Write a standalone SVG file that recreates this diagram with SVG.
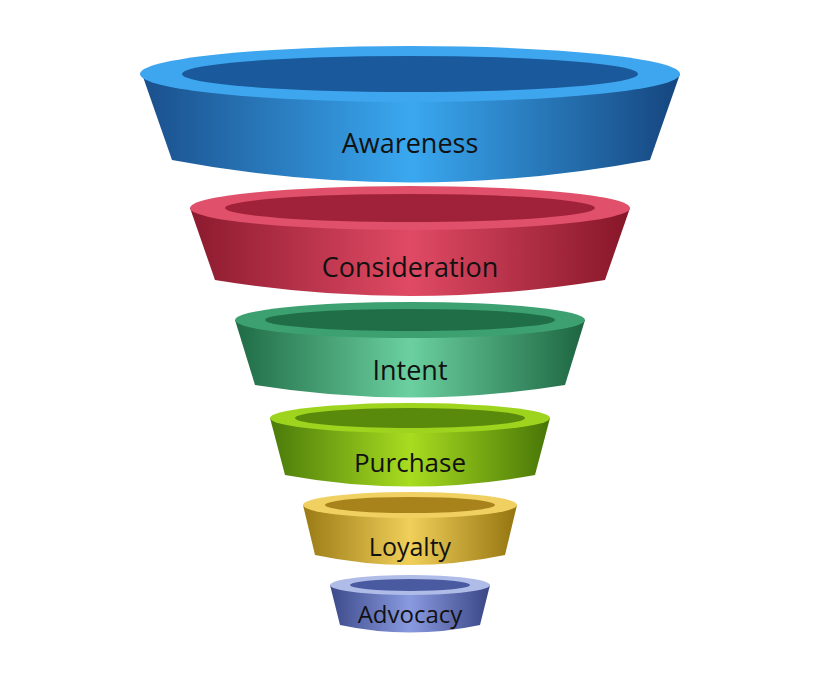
<svg xmlns="http://www.w3.org/2000/svg" width="820" height="674" viewBox="0 0 820 674">
<defs>
<style>
text{font-family:"Open Sans","Liberation Sans",sans-serif;fill:#111;text-anchor:middle}
</style>
<linearGradient id="bB" x1="0" x2="1"><stop offset="0" stop-color="#1a4f8c"/><stop offset="0.5" stop-color="#3aa8f0"/><stop offset="1" stop-color="#15457e"/></linearGradient>
<linearGradient id="bR" x1="0" x2="1"><stop offset="0" stop-color="#8c1a2e"/><stop offset="0.5" stop-color="#e04a64"/><stop offset="1" stop-color="#861628"/></linearGradient>
<linearGradient id="bG" x1="0" x2="1"><stop offset="0" stop-color="#1f6b45"/><stop offset="0.5" stop-color="#6bd0a0"/><stop offset="1" stop-color="#1c6540"/></linearGradient>
<linearGradient id="bL" x1="0" x2="1"><stop offset="0" stop-color="#4a7a0a"/><stop offset="0.5" stop-color="#a8dc20"/><stop offset="1" stop-color="#477507"/></linearGradient>
<linearGradient id="bY" x1="0" x2="1"><stop offset="0" stop-color="#9a7a14"/><stop offset="0.5" stop-color="#f0cf5a"/><stop offset="1" stop-color="#94740f"/></linearGradient>
<linearGradient id="bP" x1="0" x2="1"><stop offset="0" stop-color="#3c4a8a"/><stop offset="0.5" stop-color="#8a9ae0"/><stop offset="1" stop-color="#394584"/></linearGradient>
</defs>
<g id="connectors"/>
<g id="awareness">
<path d="M142,74 L172,160 Q410,205 650,160 L680,74 Z" fill="url(#bB)"/>
<ellipse cx="410" cy="74" rx="270" ry="28" fill="#3ea6ee"/>
<ellipse cx="410" cy="74" rx="228" ry="18" fill="#1a5a9c"/>
<text x="410" y="153" font-size="27">Awareness</text>
</g>
<g id="consideration">
<path d="M190,208 L215,280 Q410,312 605,280 L630,208 Z" fill="url(#bR)"/>
<ellipse cx="410" cy="208" rx="220" ry="22" fill="#e0506a"/>
<ellipse cx="410" cy="208" rx="185" ry="14" fill="#a0223a"/>
<text x="410" y="277" font-size="27">Consideration</text>
</g>
<g id="intent">
<path d="M235,320 L255,385 Q410,410 565,385 L585,320 Z" fill="url(#bG)"/>
<ellipse cx="410" cy="320" rx="175" ry="18" fill="#3ca070"/>
<ellipse cx="410" cy="320" rx="145" ry="11" fill="#1f6e48"/>
<text x="410" y="380" font-size="27">Intent</text>
</g>
<g id="purchase">
<path d="M270,418 L285,475 Q410,498 535,475 L550,418 Z" fill="url(#bL)"/>
<ellipse cx="410" cy="418" rx="140" ry="15" fill="#9ed41e"/>
<ellipse cx="410" cy="418" rx="115" ry="10" fill="#5a8a0c"/>
<text x="410" y="472" font-size="26">Purchase</text>
</g>
<g id="loyalty">
<path d="M303,505 L315,555 Q410,575 505,555 L517,505 Z" fill="url(#bY)"/>
<ellipse cx="410" cy="505" rx="107" ry="13" fill="#f0d060"/>
<ellipse cx="410" cy="505" rx="85" ry="8" fill="#a8821a"/>
<text x="410" y="556" font-size="25">Loyalty</text>
</g>
<g id="advocacy">
<path d="M330,585 L340,625 Q410,640 480,625 L490,585 Z" fill="url(#bP)"/>
<ellipse cx="410" cy="585" rx="80" ry="10" fill="#b0bce8"/>
<ellipse cx="410" cy="585" rx="60" ry="6" fill="#4a5aa0"/>
<text x="410" y="623" font-size="24">Advocacy</text>
</g>
</svg>
